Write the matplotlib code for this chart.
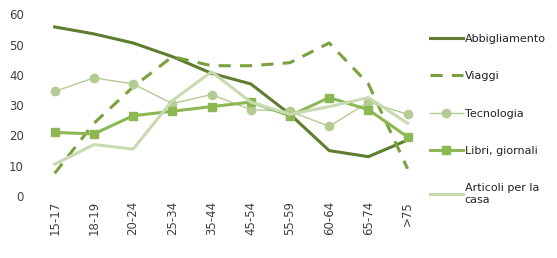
import numpy as np
import matplotlib.pyplot as plt

# age groups and shares (%)
categories = ['15-17', '18-19', '20-24', '25-34', '35-44', '45-54', '55-59', '60-64', '65-74', '>75']
abbigliamento = [55.8, 53.5, 50.5, 46.0, 40.5, 37.0, 27.0, 15.0, 13.0, 18.5]
viaggi = [7.5, 24.0, 36.0, 46.0, 43.0, 43.0, 44.0, 50.5, 37.0, 9.0]
tecnologia = [34.5, 39.0, 37.0, 30.5, 33.5, 28.5, 28.0, 23.0, 31.0, 27.0]
libri = [21.0, 20.5, 26.5, 28.0, 29.5, 31.0, 26.5, 32.5, 28.5, 19.5]
articoli = [10.5, 17.0, 15.5, 31.5, 41.0, 31.0, 27.0, 29.5, 32.5, 24.0]

x = np.arange(len(categories))

fig = plt.figure(figsize=(5.57, 2.58), dpi=100)
ax = fig.add_axes([0.063, 0.24, 0.704, 0.705])

ax.plot(x, abbigliamento, color='#5e7d2e', linewidth=2.2, label='Abbigliamento')
ax.plot(x, viaggi, color='#7aa13e', linewidth=2.2, linestyle=(0, (4, 3)), label='Viaggi')
ax.plot(x, tecnologia, color='#b4cb94', linewidth=1.0, marker='o', markersize=6,
        label='Tecnologia')
ax.plot(x, libri, color='#8cb752', linewidth=2.2, marker='s', markersize=6,
        label='Libri, giornali')
ax.plot(x, articoli, color='#c8dab0', linewidth=2.2, label='Articoli per la\ncasa')

ax.set_xlim(-0.5, len(categories) - 0.5)
ax.set_ylim(0, 60)
ax.set_yticks(np.arange(0, 61, 10))
ax.set_xticks(x)
ax.set_xticklabels(categories, rotation=90)
ax.tick_params(length=0, labelsize=8.5, colors='#404040')
ax.tick_params(axis='y', pad=8)
for s in ax.spines.values():
    s.set_visible(False)

ax.legend(loc='upper left', bbox_to_anchor=(0.995, 0.915), frameon=False, fontsize=8,
          handlelength=3.0, handletextpad=0.15, labelspacing=2.45, borderaxespad=0.0,
          labelcolor='#222222')

fig.savefig('out.png', dpi=100)
